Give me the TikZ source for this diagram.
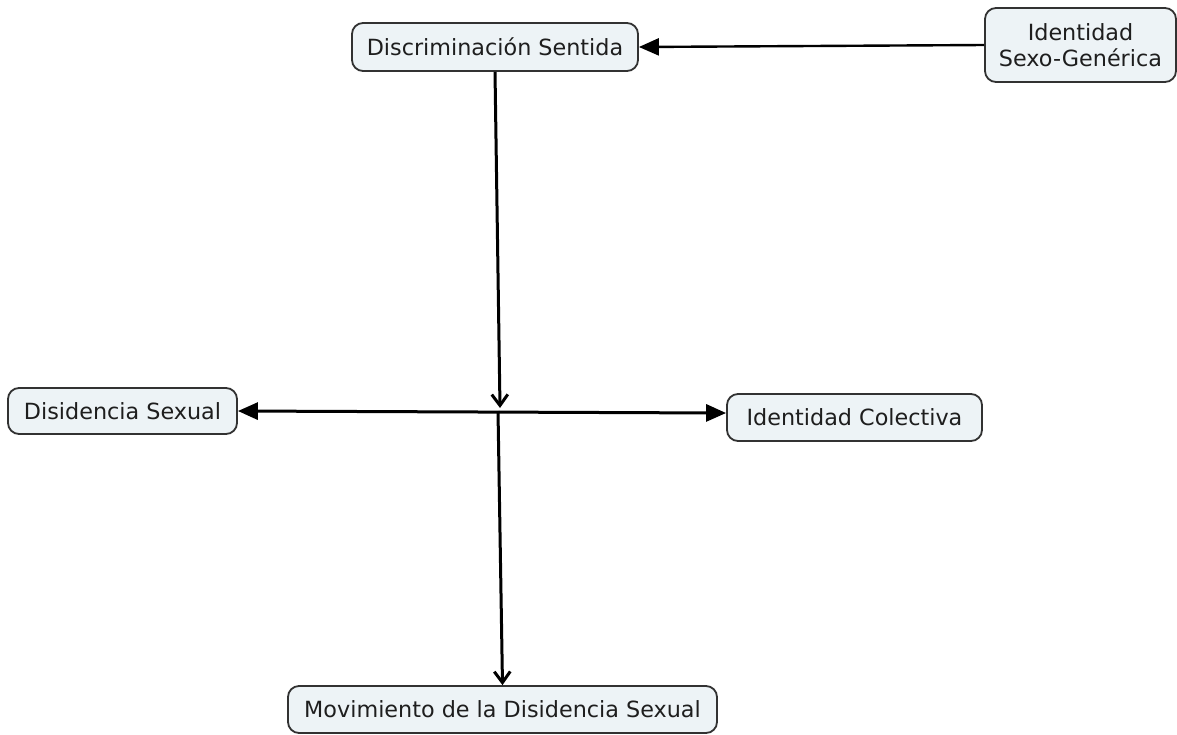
\documentclass[tikz,border=0pt]{standalone}
\usepackage{fontspec}
\setmainfont{DejaVu Sans}
\usetikzlibrary{arrows.meta}
\definecolor{boxfill}{RGB}{237,243,246}
\definecolor{boxline}{RGB}{50,50,50}
\definecolor{txt}{RGB}{30,30,30}
\begin{document}
\begin{tikzpicture}[x=1pt,y=-1pt,
  concept/.style={draw=boxline, line width=1.8pt, fill=boxfill, rounded corners=11pt,
    inner sep=0pt, font=\fontsize{22.3}{26}\selectfont, text=txt, align=center},
  link/.style={line width=3pt, draw=black},
  tri/.style={-{Triangle[length=20pt,width=17pt]}},
  bitri/.style={{Triangle[length=20pt,width=17pt]}-{Triangle[length=20pt,width=17pt]}},
  barb/.style={-{Straight Barb[length=11pt,width=16pt,line width=3pt]}}]
\useasboundingbox (0,0) rectangle (1177,734);
\node[concept, minimum width=286pt, minimum height=48pt] (disc) at (495,47) {Discriminación Sentida};
\node[concept, minimum width=191pt, minimum height=74pt] (isg) at (1080.5,45) {Identidad\\Sexo-Genérica};
\node[concept, minimum width=229pt, minimum height=46pt] (dis) at (122.5,411) {Disidencia Sexual};
\node[concept, minimum width=255pt, minimum height=47pt] (ic) at (854.5,417.5) {Identidad Colectiva};
\node[concept, minimum width=429pt, minimum height=47pt] (mov) at (502.5,709.5) {Movimiento de la Disidencia Sexual};
\coordinate (jin) at (500,408);
\coordinate (jout) at (498,411);
\draw[link, line width=2.4pt, tri] (isg.west) -- (disc.east);
\draw[link, barb] (disc.south) -- (jin);
\draw[link, bitri] (dis.east) -- (ic.178);
\draw[link, barb] (jout) -- (mov.north);
\end{tikzpicture}
\end{document}
